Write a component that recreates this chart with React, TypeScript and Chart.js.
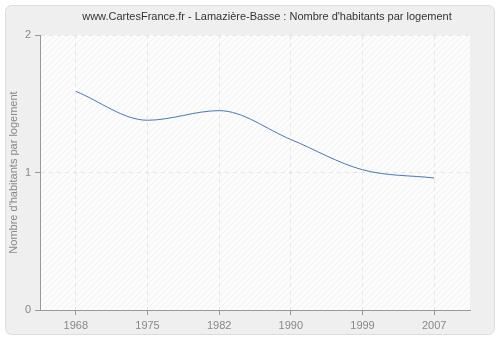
import React, { useEffect, useRef } from "react";
import { Chart, registerables } from "chart.js";

Chart.register(...registerables);

const TITLE = "www.CartesFrance.fr - Lamazière-Basse : Nombre d'habitants par logement";
const Y_TITLE = "Nombre d'habitants par logement";
const years = ["1968", "1975", "1982", "1990", "1999", "2007"];
const values = [1.59, 1.38, 1.45, 1.24, 1.02, 0.96];
const yTicks = [0, 1, 2];

const FONT = "'Liberation Sans', Arial, sans-serif";

function roundRect(ctx: CanvasRenderingContext2D, x: number, y: number, w: number, h: number, r: number) {
  ctx.beginPath();
  ctx.moveTo(x + r, y);
  ctx.lineTo(x + w - r, y);
  ctx.arcTo(x + w, y, x + w, y + r, r);
  ctx.lineTo(x + w, y + h - r);
  ctx.arcTo(x + w, y + h, x + w - r, y + h, r);
  ctx.lineTo(x + r, y + h);
  ctx.arcTo(x, y + h, x, y + h - r, r);
  ctx.lineTo(x, y + r);
  ctx.arcTo(x, y, x + r, y, r);
  ctx.closePath();
}

const bgPlugin = {
  id: "bgPlugin",
  beforeDraw(chart: any) {
    const ctx = chart.ctx as CanvasRenderingContext2D;
    const { width, height, chartArea } = chart;
    ctx.save();
    ctx.fillStyle = "#ffffff";
    ctx.fillRect(0, 0, width, height);
    roundRect(ctx, 5.5, 5.5, width - 11, height - 11, 6);
    ctx.fillStyle = "#efefef";
    ctx.fill();
    ctx.strokeStyle = "#dcdcdc";
    ctx.lineWidth = 1;
    ctx.stroke();

    // plot area hatch
    const pc = document.createElement("canvas");
    pc.width = 6;
    pc.height = 6;
    const p = pc.getContext("2d")!;
    p.fillStyle = "#fcfcfc";
    p.fillRect(0, 0, 6, 6);
    p.strokeStyle = "#f1f1f1";
    p.lineWidth = 1;
    p.beginPath();
    p.moveTo(0, 6);
    p.lineTo(6, 0);
    p.moveTo(-1, 1);
    p.lineTo(1, -1);
    p.moveTo(5, 7);
    p.lineTo(7, 5);
    p.stroke();
    const pat = ctx.createPattern(pc, "repeat");
    if (pat) ctx.fillStyle = pat;
    ctx.fillRect(chartArea.left, chartArea.top, chartArea.right - chartArea.left, chartArea.bottom - chartArea.top);

    // title
    ctx.fillStyle = "#333333";
    ctx.font = `11px ${FONT}`;
    ctx.textAlign = "center";
    ctx.textBaseline = "middle";
    ctx.fillText(TITLE, 267, 17);

    // y axis title
    ctx.translate(14, (chartArea.top + chartArea.bottom) / 2);
    ctx.rotate(-Math.PI / 2);
    ctx.fillStyle = "#888888";
    ctx.fillText(Y_TITLE, 0, 0);
    ctx.restore();
  },
};

export default function App() {
  const ref = useRef<HTMLCanvasElement | null>(null);
  useEffect(() => {
    document.body.style.margin = "0";
    const chart = new Chart(ref.current!, {
      type: "line",
      data: {
        labels: years,
        datasets: [
          {
            data: values,
            borderColor: "#4a78b0",
            borderWidth: 1,
            pointRadius: 0,
            fill: false,
            cubicInterpolationMode: "monotone",
          },
        ],
      },
      options: {
        responsive: false,
        animation: false,
        devicePixelRatio: 1,
        layout: { padding: { top: 35, right: 30, left: 0, bottom: 0 } },
        plugins: { legend: { display: false }, title: { display: false }, tooltip: { enabled: false } },
        scales: {
          x: {
            type: "category",
            offset: true,
            afterFit: (s: any) => {
              s.height = 30;
            },
            grid: {
              color: "#e4e4e4",
              tickColor: "#999999",
              tickLength: 5,
              offset: false,
              tickBorderDash: [],
            },
            border: { color: "#999999", dash: [4, 4], width: 1 },
            ticks: { color: "#888888", font: { family: FONT, size: 11 }, padding: 4 },
          },
          y: {
            min: 0,
            max: 2,
            afterFit: (s: any) => {
              s.width = 40;
            },
            afterBuildTicks: (s: any) => {
              s.ticks = yTicks.map((v) => ({ value: v }));
            },
            grid: {
              color: "#e4e4e4",
              tickColor: "#999999",
              tickLength: 5,
              tickBorderDash: [],
            },
            border: { color: "#999999", dash: [4, 4], width: 1 },
            ticks: { color: "#888888", font: { family: FONT, size: 11 }, padding: 4 },
          },
        },
      },
      plugins: [bgPlugin],
    } as any);
    return () => chart.destroy();
  }, []);
  return <canvas ref={ref} width={500} height={340} style={{ display: "block" }} />;
}
